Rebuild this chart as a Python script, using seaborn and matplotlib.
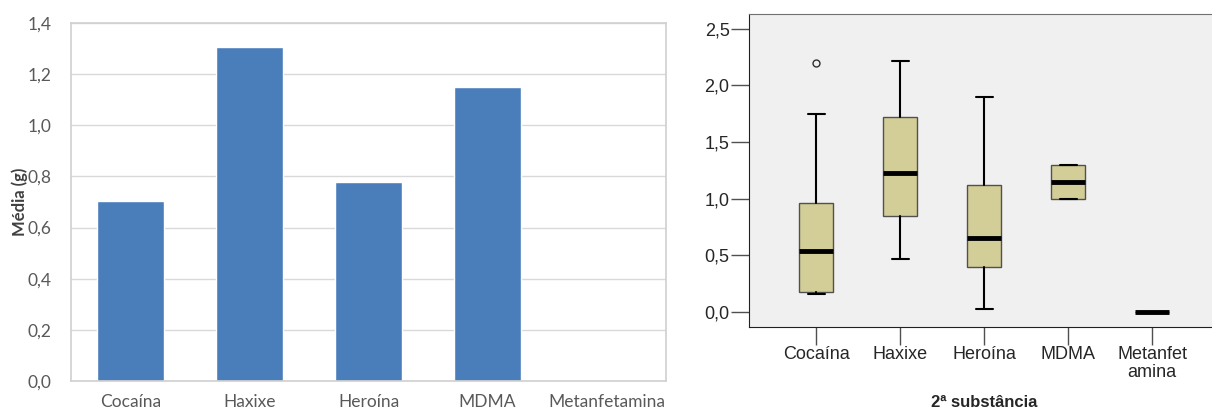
import matplotlib
matplotlib.use("Agg")
from matplotlib import pyplot as plt
import seaborn as sns

sns.set_style("white")

# left chart: mean quantity per substance
substances = ["Cocaína", "Haxixe", "Heroína", "MDMA", "Metanfetamina"]
means = [0.705, 1.307, 0.777, 1.150, 0.0]

# right chart: boxplot summary per 2nd substance
box_labels = ["Cocaína", "Haxixe", "Heroína", "MDMA", "Metanfet\namina"]
q1 = [0.18, 0.85, 0.40, 1.00, 0.0]
med = [0.54, 1.23, 0.65, 1.145, 0.0]
q3 = [0.965, 1.72, 1.12, 1.30, 0.0]
whislo = [0.16, 0.47, 0.025, 1.00, 0.0]
whishi = [1.75, 2.22, 1.90, 1.30, 0.0]
fliers = [[2.20], [], [], [], []]

fig = plt.figure(figsize=(12.12, 4.12), dpi=100)

# ---- bar chart (Excel style) ----
ax1 = fig.add_axes([0.0586, 0.0752, 0.491, 0.869])
sns.barplot(x=substances, y=means, color="#4a7ebb", saturation=1, width=0.56, ax=ax1)
ax1.set_ylim(0, 1.4)
ax1.set_xlim(-0.5, 4.5)
ax1.set_yticks([0, 0.2, 0.4, 0.6, 0.8, 1.0, 1.2, 1.4])
ax1.set_yticklabels([f"{v:.1f}".replace(".", ",") for v in ax1.get_yticks()])
ax1.yaxis.grid(True, color="#d9d9d9", lw=1)
ax1.set_axisbelow(True)
for s in ax1.spines.values():
    s.set_visible(True)
    s.set_color("#d0d0d0")
    s.set_linewidth(1.2)
ax1.tick_params(length=0, labelsize=12.5, labelcolor="#595959", pad=14)
ax1.tick_params(axis="x", pad=9)
for lab in ax1.get_xticklabels() + ax1.get_yticklabels():
    lab.set_family("Lato")
ax1.set_ylabel("Média (g)", family="Lato", fontsize=12, fontweight="bold",
               color="#404040", labelpad=0)

# ---- boxplot (SPSS style) ----
ax2 = fig.add_axes([0.618, 0.2063, 0.388, 0.760])
ax2.set_facecolor("#f0f0f0")
stats = []
for i in range(len(box_labels)):
    stats.append(dict(q1=q1[i], med=med[i], q3=q3[i], whislo=whislo[i],
                      whishi=whishi[i], fliers=fliers[i]))
ax2.bxp(stats, positions=range(len(box_labels)), widths=0.4, capwidths=0.2,
        patch_artist=True,
        boxprops=dict(facecolor="#d3ce97", edgecolor="#505050", lw=1),
        medianprops=dict(color="black", lw=3.5, solid_capstyle="butt"),
        whiskerprops=dict(color="black", lw=1.5),
        capprops=dict(color="black", lw=1.5),
        flierprops=dict(marker="o", markersize=5, markerfacecolor="none",
                        markeredgecolor="#303030", markeredgewidth=1))
ax2.set_xlim(-0.8, 4.8)
ax2.set_ylim(-0.1325, 2.632)
ax2.set_yticks([0, 0.5, 1.0, 1.5, 2.0, 2.5])
ax2.set_yticklabels([f"{v:.1f}".replace(".", ",") for v in ax2.get_yticks()])
ax2.set_xticks(range(len(box_labels)))
ax2.set_xticklabels(box_labels, linespacing=1.05)
for s in ["top", "left", "bottom", "right"]:
    ax2.spines[s].set_visible(True)
ax2.spines["top"].set_color("#707070")
ax2.spines["left"].set_color("#202020")
ax2.spines["bottom"].set_color("#202020")
ax2.spines["right"].set_visible(False)
ax2.tick_params(axis="both", direction="out", length=13, width=1, color="#505050",
                labelsize=13, pad=1, left=True, bottom=True)
for lab in ax2.get_xticklabels() + ax2.get_yticklabels():
    lab.set_family("Liberation Sans")
ax2.set_xlabel("2ª substância", family="Liberation Sans", fontsize=12,
               fontweight="bold", labelpad=10)

fig.savefig("out.png", dpi=100)
